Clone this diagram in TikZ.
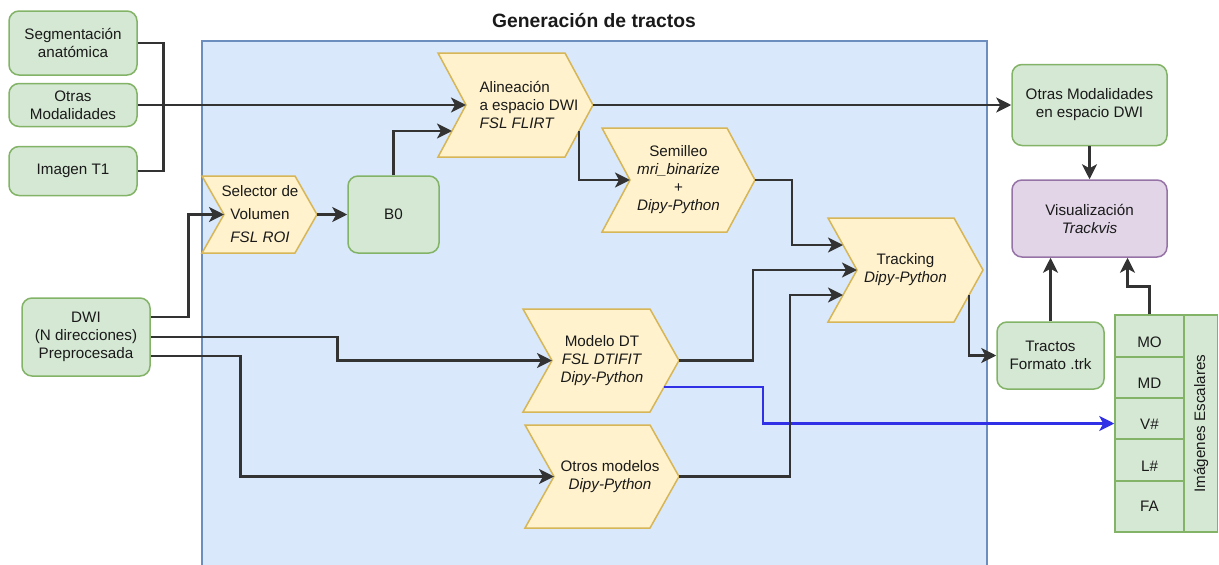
\documentclass[tikz,border=0pt]{standalone}
\usepackage{fontspec}
\setmainfont{Liberation Sans}
\usetikzlibrary{arrows.meta,calc}

\definecolor{gfill}{HTML}{D5E8D4}
\definecolor{gline}{HTML}{82B366}
\definecolor{yfill}{HTML}{FFF2CC}
\definecolor{yline}{HTML}{D6B656}
\definecolor{cfill}{HTML}{DAE8FC}
\definecolor{cline}{HTML}{6C8EBF}
\definecolor{pfill}{HTML}{E1D5E7}
\definecolor{pline}{HTML}{9673A6}
\definecolor{wirec}{HTML}{333333}
\definecolor{bluec}{HTML}{3030E6}
\definecolor{txt}{HTML}{1A1A1A}

% step (chevron) process: [node options]{name}{x1}{y1}{x2}{y2}{depth}{text x}{text}
\newcommand\stepshape[9][]{%
  \draw[chev] (#3,#4) -- (#5-#7,#4) -- (#5,{(#4+#6)/2}) -- (#5-#7,#6)
     -- (#3,#6) -- (#3+#7,{(#4+#6)/2}) -- cycle;
  \coordinate (#2-in) at (#3+#7,{(#4+#6)/2});
  \coordinate (#2-out) at (#5,{(#4+#6)/2});
  \node[chevtext,#1] (#2) at (#8,{(#4+#6)/2}) {#9};}

\begin{document}
\begin{tikzpicture}[x=1pt,y=-1pt,
  every node/.style={text=txt, inner sep=0pt},
  font=\fontsize{15.2}{18}\selectfont,
  gbox/.style={draw=gline, fill=gfill, line width=1.5pt, rounded corners=10pt, align=center},
  pbox/.style={gbox, draw=pline, fill=pfill},
  chev/.style={draw=yline, fill=yfill, line width=1.5pt},
  chevtext/.style={align=center},
  cell/.style={draw=gline, fill=gfill, line width=1.5pt, minimum width=69pt, text depth=0pt},
  lowtext/.style={text height=22.5pt},
  wire/.style={draw=wirec, line width=2.6pt},
  arr/.style={wire, -{Stealth[length=15pt,width=15pt,inset=4pt]}},
  barr/.style={draw=bluec, line width=2.4pt, -{Stealth[length=15pt,width=15pt,inset=4pt]}},
]
\useasboundingbox (0,0) rectangle (1219,565);

% container
\fill[cfill] (202,41) rectangle (987,570);
\draw[cline, line width=1.5pt] (202,570) -- (202,41) -- (987,41) -- (987,570);
\node[font=\fontsize{19.3}{22}\selectfont\bfseries] (title) at (594,21) {Generación de tractos};

% inputs
\node[gbox, minimum width=128pt, minimum height=64pt] (seg) at (73,43) {Segmentación\\anatómica};
\node[gbox, minimum width=128pt, minimum height=43pt] (otras) at (73,105) {Otras\\Modalidades};
\node[gbox, minimum width=128pt, minimum height=49pt] (t1) at (73,171) {Imagen T1};
\node[gbox, minimum width=128pt, minimum height=78pt] (dwi) at (86,337) {DWI\\(N direcciones)\\Preprocesada};

% processing steps
\stepshape[font=\fontsize{15.2}{23}\selectfont]{sel}{202}{176}{317}{253}{22}{260}{Selector de\\Volumen\\\textit{FSL ROI}}
\node[gbox, minimum width=91pt, minimum height=77pt] (b0) at (393.5,214.5) {B0};
\stepshape[align=left]{alin}{438}{53}{593}{157}{28}{529}{Alineación\\a espacio DWI\\\textit{FSL FLIRT}}
\stepshape{sem}{602}{128}{755}{232}{28}{678.5}{Semilleo\\\textit{mri\_binarize}\\+\\\textit{Dipy-Python}}
\stepshape{track}{828}{218}{983}{322}{29}{905.5}{Tracking\\\textit{Dipy-Python}}
\stepshape{mdt}{523}{309}{679}{412}{29}{602}{Modelo DT\\\textit{FSL DTIFIT}\\\textit{Dipy-Python}}
\stepshape{otros}{525}{425}{679}{528}{29}{610}{Otros modelos\\\textit{Dipy-Python}}

% edge points on the step outlines
\coordinate (alin-b) at (452,131);
\coordinate (alin-c) at (579,131);
\coordinate (track-a) at (843,245);
\coordinate (track-b) at (843,295);
\coordinate (track-c) at (969,295);
\coordinate (mdt-c) at (664,387);

% outputs
\node[gbox, minimum width=155pt, minimum height=81pt] (odwi) at (1089.5,105) {Otras Modalidades\\en espacio DWI};
\node[pbox, minimum width=155pt, minimum height=77pt] (vis) at (1089.5,218.5) {Visualización\\\textit{Trackvis}};
\node[gbox, minimum width=107pt, minimum height=67pt] (tractos) at (1050.5,355.5) {Tractos\\Formato .trk};

% scalar images table
\node[cell, minimum width=34pt, minimum height=217pt] (esc) at (1200.5,423.5) {};
\node[rotate=90] (esc-t) at (1201,423.5) {Imágenes Escalares};
\node[cell, lowtext, minimum height=42pt] (mo) at (1149.5,336) {MO};
\node[cell, lowtext, minimum height=41pt] (md) at (1149.5,377.5) {MD};
\node[cell, lowtext, minimum height=41pt] (vcell) at (1149.5,418.5) {V\#};
\node[cell, lowtext, minimum height=42pt] (lcell) at (1149.5,460) {L\#};
\node[cell, minimum height=51pt] (fa) at (1149.5,506.5) {FA};

% connectors
\draw[barr] (mdt-c) -- ++(99,0) |- ([yshift=-5pt]vcell.west);

\draw[wire] (seg.east) -- ++(26,0) |- (t1.east);
\draw[arr] (otras.east) -- (alin-in);
\draw[arr] ([yshift=20pt]dwi.east) -- ++(38,0) |- (sel-in);
\draw[arr] (dwi.east) -- ++(187,0) |- (mdt-in);
\draw[arr] ([yshift=-19pt]dwi.east) -- ++(90,0) |- (otros-in);
\draw[arr] (sel-out) -- (b0.west);
\draw[arr] (b0.north) |- (alin-b);
\draw[arr] (alin-out) -- (odwi.west);
\draw[arr] (alin-c) |- (sem-in);
\draw[arr] (sem-out) -- ++(37,0) |- (track-a);
\draw[arr] (mdt-out) -- ++(74,0) |- (track-in);
\draw[arr] (otros-out) -- ++(111,0) |- (track-b);
\draw[arr] (track-c) |- (tractos.west);
\draw[arr] (tractos.north) -- (tractos.north |- vis.south);
\draw[arr] (odwi.south) -- (vis.north);
\draw[arr] (mo.north) -- ++(0,-28) -| ([xshift=38pt]vis.south);
\end{tikzpicture}
\end{document}
